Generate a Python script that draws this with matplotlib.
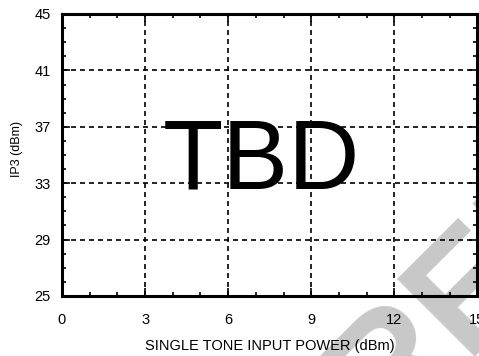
"""
IP3 gegen Eingangsleistung (Einzelton) - Platzhalterdiagramm, Daten folgen.
Schreibt out.png.
"""

import matplotlib
matplotlib.use("Agg")
import matplotlib.pyplot as plt
from matplotlib.ticker import MultipleLocator

OUT_PATH = "out.png"
FIGSIZE = (4.79, 3.56)
DPI = 100

# Achsenbereiche und Beschriftungen
X_LIM = (0, 15)
Y_LIM = (25, 45)
X_TICKS = [0, 3, 6, 9, 12, 15]
Y_TICKS = [25, 29, 33, 37, 41, 45]
X_LABEL = "SINGLE TONE INPUT POWER (dBm)"
Y_LABEL = "IP3 (dBm)"

# Platzhalter im Diagramm (Position in Datenkoordinaten)
PLACEHOLDER = "TBD"
PLACEHOLDER_POS = (7.2, 32.65)
WATERMARK = "PRELIMINARY"


def setup_style():
    plt.rcParams.update({
        "font.family": ["Liberation Sans", "DejaVu Sans"],
        "font.size": 10.5,
        "axes.linewidth": 2.2,
        "figure.facecolor": "white",
    })


def main():
    setup_style()
    fig = plt.figure(figsize=FIGSIZE, dpi=DPI)
    ax = fig.add_axes([62 / 479, 60 / 356, 415.5 / 479, 282 / 356])
    ax.set_facecolor("none")

    # Wasserzeichen diagonal, hinter den Achsen (nur ein Teil liegt im Bild)
    fig.text(0.644, -0.442, WATERMARK, rotation=45, rotation_mode="anchor",
             ha="left", va="baseline", fontsize=115, fontweight="bold",
             color="#c8c8c8", zorder=-1)

    ax.set_xlim(*X_LIM)
    ax.set_ylim(*Y_LIM)
    ax.set_xticks(X_TICKS)
    ax.set_yticks(Y_TICKS)
    ax.xaxis.set_minor_locator(MultipleLocator(1))
    ax.yaxis.set_minor_locator(MultipleLocator(1))
    ax.tick_params(which="both", direction="in", top=True, right=True,
                   colors="black")
    ax.tick_params(which="major", length=6, width=1.2)
    ax.tick_params(which="minor", length=3, width=1.2)
    ax.tick_params(axis="x", which="major", pad=12.2, labelsize=10.5)
    ax.tick_params(axis="y", which="major", pad=8, labelsize=10.5)

    ax.grid(True, which="major", color="black", linewidth=1.2,
            linestyle=(0, (3, 2.4)))

    ax.set_xlabel(X_LABEL, fontsize=10.5, labelpad=8.5)
    ax.set_ylabel(Y_LABEL, fontsize=9, labelpad=8.6)
    ax.yaxis.label.set_y(0.52)

    ax.text(*PLACEHOLDER_POS, PLACEHOLDER, ha="center", va="baseline",
            fontsize=71, color="black")

    fig.savefig(OUT_PATH, dpi=DPI)
    plt.close(fig)


if __name__ == "__main__":
    main()
